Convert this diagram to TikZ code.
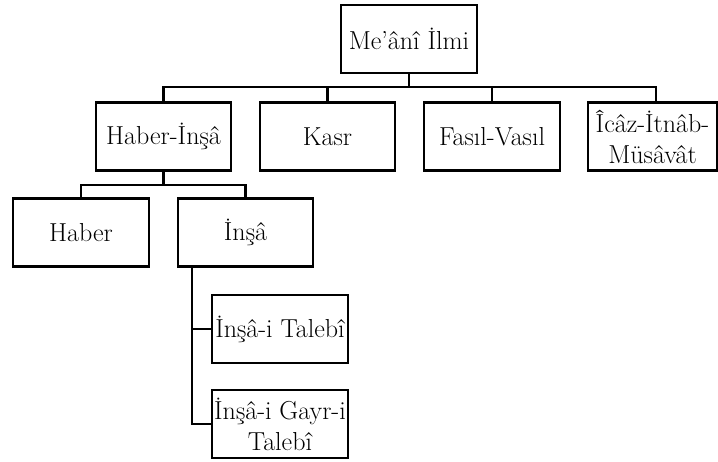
\documentclass[tikz,border=0pt]{standalone}
\begin{document}
\begin{tikzpicture}[x=1pt,y=-1pt,
  box/.style={draw,line width=2.8pt,inner sep=0pt,minimum height=68pt,
    align=center,font=\fontsize{26}{31}\selectfont},
  link/.style={line width=2.8pt,line cap=rect}]
\useasboundingbox (0,0) rectangle (718,461);
\node[box,minimum width=136pt] (root) at (409,39) {Me’ânî İlmi};
\node[box,minimum width=135pt] (hi) at (163.5,136.5) {Haber-İnşâ};
\node[box,minimum width=135pt] (kasr) at (327.5,136.5) {Kasr};
\node[box,minimum width=136pt] (fasil) at (492,136.5) {Fasıl-Vasıl};
\node[box,minimum width=129pt] (icaz) at (652.5,136.5) {Îcâz-İtnâb-\\Müsâvât};
\node[box,minimum width=136pt] (haber) at (81,232.5) {Haber};
\node[box,minimum width=135pt] (insa) at (245.5,232.5) {İnşâ};
\node[box,minimum width=136pt] (talebi) at (280,329) {İnşâ-i Talebî};
\node[box,minimum width=136pt] (gayri) at (280,424) {İnşâ-i Gayr-i\\Talebî};
\coordinate (b1) at (409,87);
\coordinate (icazin) at (656,102.5);
\coordinate (b2) at (163.5,185);
\coordinate (ins) at (192,266.5);
\draw[link] (root) -- (b1);
\draw[link] (hi.north) |- (b1);
\draw[link] (kasr.north) |- (b1);
\draw[link] (fasil.north) |- (b1);
\draw[link] (icazin) |- (b1);
\draw[link] (hi.south) -- (b2);
\draw[link] (haber.north) |- (b2);
\draw[link] (insa.north) |- (b2);
\draw[link] (ins) |- (talebi.west);
\draw[link] (ins) |- (gayri.west);
\end{tikzpicture}
\end{document}
